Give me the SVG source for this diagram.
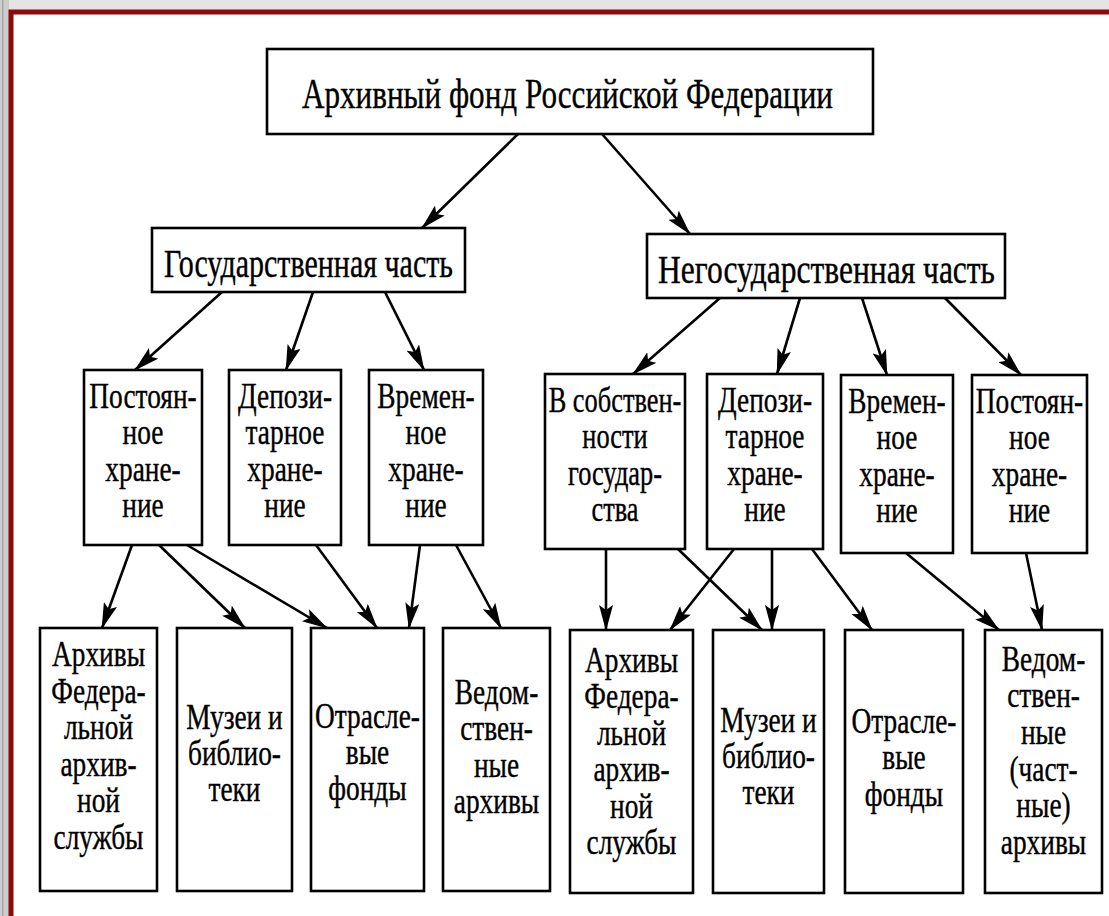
<svg xmlns="http://www.w3.org/2000/svg" width="1109" height="916" viewBox="0 0 1109 916">
<defs>
<style>
.bx{fill:#fff;stroke:#000;stroke-width:2.6}
.t{font-family:"Liberation Serif","Times New Roman",serif;font-size:36px;fill:#000;stroke:#000;stroke-width:0.4;text-anchor:middle}
.h{font-family:"Liberation Serif","Times New Roman",serif;fill:#000;stroke:#000;stroke-width:0.4}
.c line{stroke:#000;stroke-width:2.6;marker-end:url(#ah)}
</style>
<marker id="ah" markerUnits="userSpaceOnUse" viewBox="0 0 26 14" refX="25" refY="7" markerWidth="26" markerHeight="14" orient="auto">
<path d="M0,0 L26,7 L0,14 L5,7 z" fill="#000"/>
</marker>
</defs>
<rect x="0" y="0" width="1109" height="916" fill="#e4e4e4"/>
<rect x="0" y="0" width="9" height="916" fill="#cdcdcd"/>
<rect x="2" y="0" width="1.5" height="916" fill="#a8a8a8"/>
<rect x="11" y="12" width="1098" height="904" fill="#fff"/>
<path d="M11,916 V12 H1109" fill="none" stroke="#8b0a0a" stroke-width="5"/>

<g class="c" id="connectors">
<line x1="518" y1="134" x2="422" y2="228"/>
<line x1="602" y1="134" x2="690" y2="234"/>
<line x1="222" y1="292" x2="135" y2="370"/>
<line x1="313" y1="292" x2="286" y2="370"/>
<line x1="385" y1="292" x2="424" y2="370"/>
<line x1="720" y1="298" x2="633" y2="374"/>
<line x1="800" y1="298" x2="777" y2="374"/>
<line x1="862" y1="298" x2="887" y2="375"/>
<line x1="945" y1="298" x2="1021" y2="375"/>
<line x1="132" y1="545" x2="102" y2="628"/>
<line x1="159" y1="545" x2="245" y2="628"/>
<line x1="187" y1="545" x2="327" y2="628"/>
<line x1="316" y1="545" x2="377" y2="628"/>
<line x1="420" y1="545" x2="409" y2="628"/>
<line x1="456" y1="545" x2="501" y2="628"/>
<line x1="606" y1="549" x2="606" y2="630"/>
<line x1="678" y1="549" x2="762" y2="630"/>
<line x1="734" y1="549" x2="670" y2="630"/>
<line x1="772" y1="549" x2="772" y2="630"/>
<line x1="812" y1="549" x2="872" y2="630"/>
<line x1="906" y1="553" x2="999" y2="630"/>
<line x1="1026" y1="553" x2="1042" y2="630"/>
</g>

<g id="root"><rect class="bx" x="267" y="49" width="606" height="85"/>
<text class="h" x="302" y="108" font-size="43" textLength="531" lengthAdjust="spacingAndGlyphs">Архивный фонд Российской Федерации</text></g>

<g id="gos"><rect class="bx" x="152" y="228" width="313" height="64"/>
<text class="h" x="164" y="277" font-size="41" textLength="289" lengthAdjust="spacingAndGlyphs">Государственная часть</text></g>

<g id="negos"><rect class="bx" x="647" y="234" width="358" height="64"/>
<text class="h" x="658" y="283" font-size="41" textLength="337" lengthAdjust="spacingAndGlyphs">Негосударственная часть</text></g>

<g id="g-post"><rect class="bx" x="84" y="370" width="118" height="175"/>
<text class="t" transform="translate(143 0) scale(0.76 1)"><tspan x="0" y="408">Постоян-</tspan><tspan x="0" y="444.5">ное</tspan><tspan x="0" y="481">хране-</tspan><tspan x="0" y="517.5">ние</tspan></text></g>

<g id="g-dep"><rect class="bx" x="229" y="370" width="112" height="175"/>
<text class="t" transform="translate(285 0) scale(0.76 1)"><tspan x="0" y="408">Депози-</tspan><tspan x="0" y="444.5">тарное</tspan><tspan x="0" y="481">хране-</tspan><tspan x="0" y="517.5">ние</tspan></text></g>

<g id="g-vrem"><rect class="bx" x="369" y="370" width="114" height="175"/>
<text class="t" transform="translate(426 0) scale(0.76 1)"><tspan x="0" y="408">Времен-</tspan><tspan x="0" y="444.5">ное</tspan><tspan x="0" y="481">хране-</tspan><tspan x="0" y="517.5">ние</tspan></text></g>

<g id="n-sobst"><rect class="bx" x="545" y="374" width="140" height="175"/>
<text class="t" transform="translate(615 0) scale(0.733 1)"><tspan x="0" y="412">В собствен-</tspan><tspan x="0" y="448.5">ности</tspan><tspan x="0" y="485">государ-</tspan><tspan x="0" y="521.5">ства</tspan></text></g>

<g id="n-dep"><rect class="bx" x="707" y="374" width="116" height="175"/>
<text class="t" transform="translate(765 0) scale(0.76 1)"><tspan x="0" y="412">Депози-</tspan><tspan x="0" y="448.5">тарное</tspan><tspan x="0" y="485">хране-</tspan><tspan x="0" y="521.5">ние</tspan></text></g>

<g id="n-vrem"><rect class="bx" x="841" y="375" width="112" height="178"/>
<text class="t" transform="translate(897 0) scale(0.76 1)"><tspan x="0" y="413">Времен-</tspan><tspan x="0" y="449.5">ное</tspan><tspan x="0" y="486">хране-</tspan><tspan x="0" y="522.5">ние</tspan></text></g>

<g id="n-post"><rect class="bx" x="972" y="375" width="115" height="178"/>
<text class="t" transform="translate(1029.5 0) scale(0.76 1)"><tspan x="0" y="413">Постоян-</tspan><tspan x="0" y="449.5">ное</tspan><tspan x="0" y="486">хране-</tspan><tspan x="0" y="522.5">ние</tspan></text></g>

<g id="g-arch"><rect class="bx" x="40" y="628" width="117" height="263"/>
<text class="t" transform="translate(98.5 0) scale(0.76 1)"><tspan x="0" y="666">Архивы</tspan><tspan x="0" y="703">Федера-</tspan><tspan x="0" y="739.5">льной</tspan><tspan x="0" y="776">архив-</tspan><tspan x="0" y="812.5">ной</tspan><tspan x="0" y="849">службы</tspan></text></g>

<g id="g-muz"><rect class="bx" x="177" y="628" width="115" height="263"/>
<text class="t" transform="translate(234.5 0) scale(0.76 1)"><tspan x="0" y="729">Музеи и</tspan><tspan x="0" y="765">библио-</tspan><tspan x="0" y="801">теки</tspan></text></g>

<g id="g-otr"><rect class="bx" x="311" y="628" width="113" height="263"/>
<text class="t" transform="translate(367.5 0) scale(0.76 1)"><tspan x="0" y="728">Отрасле-</tspan><tspan x="0" y="764">вые</tspan><tspan x="0" y="800">фонды</tspan></text></g>

<g id="g-ved"><rect class="bx" x="443" y="628" width="107" height="263"/>
<text class="t" transform="translate(496.5 0) scale(0.76 1)"><tspan x="0" y="704">Ведом-</tspan><tspan x="0" y="740">ствен-</tspan><tspan x="0" y="777">ные</tspan><tspan x="0" y="813">архивы</tspan></text></g>

<g id="n-arch"><rect class="bx" x="570" y="630" width="123" height="263"/>
<text class="t" transform="translate(631.5 0) scale(0.76 1)"><tspan x="0" y="672">Архивы</tspan><tspan x="0" y="708.5">Федера-</tspan><tspan x="0" y="745">льной</tspan><tspan x="0" y="781.5">архив-</tspan><tspan x="0" y="818">ной</tspan><tspan x="0" y="854.5">службы</tspan></text></g>

<g id="n-muz"><rect class="bx" x="713" y="630" width="111" height="263"/>
<text class="t" transform="translate(768.5 0) scale(0.76 1)"><tspan x="0" y="732">Музеи и</tspan><tspan x="0" y="768">библио-</tspan><tspan x="0" y="804">теки</tspan></text></g>

<g id="n-otr"><rect class="bx" x="845" y="630" width="118" height="263"/>
<text class="t" transform="translate(904 0) scale(0.76 1)"><tspan x="0" y="733">Отрасле-</tspan><tspan x="0" y="769.5">вые</tspan><tspan x="0" y="806">фонды</tspan></text></g>

<g id="n-ved"><rect class="bx" x="985" y="630" width="117" height="263"/>
<text class="t" transform="translate(1043.5 0) scale(0.76 1)"><tspan x="0" y="671">Ведом-</tspan><tspan x="0" y="707.5">ствен-</tspan><tspan x="0" y="744">ные</tspan><tspan x="0" y="781">(част-</tspan><tspan x="0" y="817.5">ные)</tspan><tspan x="0" y="854">архивы</tspan></text></g>
</svg>
